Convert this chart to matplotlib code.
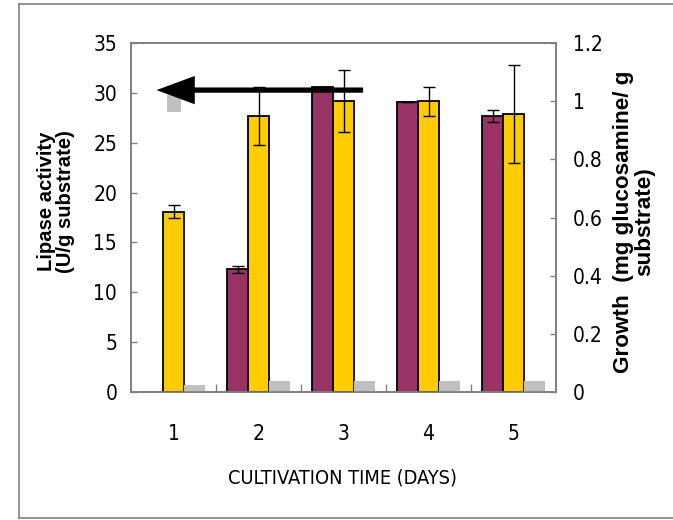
import matplotlib
matplotlib.use('Agg')
import matplotlib.pyplot as plt
from matplotlib.patches import FancyArrow, Rectangle
from matplotlib.lines import Line2D
import numpy as np

days = ['1', '2', '3', '4', '5']

# lipase activity (U/g substrate), left axis
lipase = [0.0, 12.3, 30.6, 29.1, 27.7]
lipase_err = [0.0, 0.35, 0.0, 0.0, 0.6]

# growth (mg glucosamine / g substrate), right axis
growth = [0.62, 0.95, 1.0, 1.0, 0.957]
growth_err = [0.022, 0.10, 0.107, 0.05, 0.17]

# third (grey) series, right axis
grey = [0.023, 0.038, 0.038, 0.038, 0.038]

MAROON = '#993366'
YELLOW = '#ffcc00'
GREY = '#c0c0c0'
FRAME = '#808080'

narrow = dict(family='DejaVu Sans', stretch='condensed')
bold = ['Liberation Sans', 'DejaVu Sans']

fig = plt.figure(figsize=(6.73, 5.2), dpi=100)
ax = fig.add_axes([0.1947, 0.2467, 0.6315, 0.67])
ax2 = ax.twinx()

x = np.arange(len(days))
w = 0.245

ax.bar(x - w, lipase, w, color=MAROON, edgecolor='black', linewidth=1.3, zorder=2)
ax.errorbar(x[1:] - w, lipase[1:], yerr=lipase_err[1:], fmt='none', ecolor='black',
            elinewidth=1, capsize=4, capthick=1, zorder=3)

ax2.bar(x, growth, w, color=YELLOW, edgecolor='black', linewidth=1.3, zorder=2)
ax2.errorbar(x, growth, yerr=growth_err, fmt='none', ecolor='black',
             elinewidth=1, capsize=4, capthick=1, zorder=3)
ax2.bar(x + w, grey, w, color=GREY, linewidth=0, zorder=2)

ax.set_xlim(-0.5, 4.5)
ax.set_ylim(0, 35)
ax2.set_ylim(0, 1.2)

ax.set_yticks(np.arange(0, 36, 5))
ax2.set_yticks(np.arange(0, 1.21, 0.2))
ax2.set_yticklabels(['0', '0.2', '0.4', '0.6', '0.8', '1', '1.2'])

# category boundaries get the tick marks, the day labels sit in between
ax.set_xticks([0.5, 1.5, 2.5, 3.5])
ax.set_xticklabels([])
ax.set_xticks(x, minor=True)
ax.set_xticklabels(days, minor=True)
ax.tick_params(axis='x', which='major', direction='in', length=6, width=1, color=FRAME)
ax.tick_params(axis='x', which='minor', length=0, pad=23, labelsize=15)
ax.tick_params(axis='y', direction='in', length=4.5, width=1, color=FRAME, pad=10, labelsize=15)
ax2.tick_params(axis='y', direction='in', length=4.5, width=1, color=FRAME, pad=12, labelsize=15)
for lab in ax.get_xticklabels(minor=True) + ax.get_yticklabels() + ax2.get_yticklabels():
    lab.set_family(narrow['family'])
    lab.set_stretch(narrow['stretch'])

for a in (ax, ax2):
    for s in a.spines.values():
        s.set_color(FRAME)
        s.set_linewidth(1.2)

# small grey swatch and the big arrow pointing to the lipase axis
ax.add_patch(Rectangle((-0.08, 28.15), 0.168, 1.65, color=GREY, lw=0, zorder=4))
ax2.add_patch(FancyArrow(2.23, 30.3 / 35 * 1.2, -2.43, 0, width=0.53 / 35 * 1.2,
                         head_width=2.85 / 35 * 1.2, head_length=0.45,
                         length_includes_head=True, color='black', lw=0, zorder=5))

fig.text(0.5088, 0.08, 'CULTIVATION TIME (DAYS)', ha='center', va='center',
         fontsize=14.3, **narrow)
fig.text(0.083, 0.612, 'Lipase activity\n(U/g substrate)', rotation=90, ha='center',
         va='center', family=bold, fontweight='bold', fontsize=14.6, linespacing=1.0)
fig.text(0.942, 0.573, 'Growth  (mg glucosamine/ g\nsubstrate)', rotation=90, ha='center',
         va='center', family=bold, fontweight='bold', fontsize=16.2, linespacing=1.0)

# grey frame on left, top and bottom
for xs, ys in [([0.028, 0.028], [0.004, 0.992]),
               ([0.028, 1.0], [0.992, 0.992]),
               ([0.028, 1.0], [0.004, 0.004])]:
    fig.add_artist(Line2D(xs, ys, color=FRAME, lw=1.2, transform=fig.transFigure))

fig.savefig('out.png', dpi=100)
